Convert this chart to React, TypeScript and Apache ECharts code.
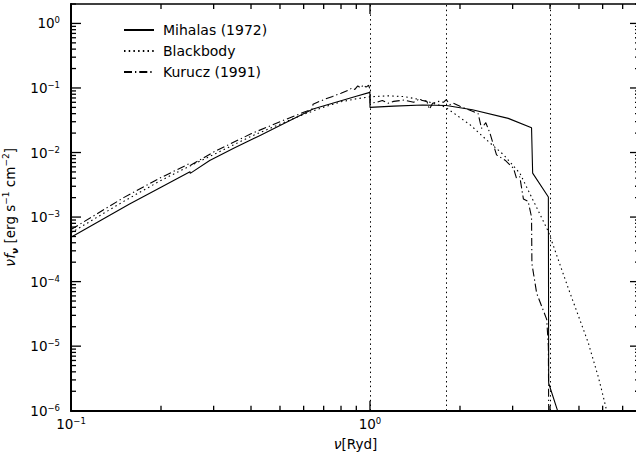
import React, { useEffect, useRef } from 'react';
import * as echarts from 'echarts';

const FONT = '"DejaVu Sans", "Liberation Sans", sans-serif';

// [nu (Ryd), nu f_nu]
const mihalas: [number, number][] = [
  [0.1, 4.85e-4], [0.157, 1.59e-3], [0.2, 2.9e-3], [0.25, 5.05e-3], [0.2505, 4.75e-3],
  [0.291, 7.5e-3], [0.35, 0.0116], [0.429, 0.0184], [0.5, 0.0262], [0.645, 0.0471],
  [0.8, 0.0635], [0.9, 0.0746], [0.999, 0.0854], [1.0, 0.05], [1.2, 0.0524],
  [1.5, 0.0545], [1.8, 0.0535], [2.2, 0.046], [2.9, 0.0338], [3.47, 0.0242],
  [3.5, 0.0048], [3.95, 0.00205], [3.96, 2.66e-6], [4.24, 1e-6], [4.4, 5e-7],
];

const blackbody: [number, number][] = [
  [0.1, 5.7e-4], [0.15, 1.75e-3], [0.2, 3.7e-3], [0.25, 6.2e-3], [0.3, 9.3e-3],
  [0.4, 0.0178], [0.5, 0.0275], [0.6, 0.039], [0.7, 0.0505], [0.8, 0.061],
  [0.9, 0.068], [1.0, 0.073], [1.15, 0.0755], [1.3, 0.0735], [1.5, 0.065],
  [1.78, 0.051], [2.16, 0.027], [2.457, 0.0156], [2.8, 0.0092], [3.174, 4.75e-3],
  [3.5, 1.88e-3], [3.95, 5.97e-4], [4.6, 8.0e-5], [5.37, 1.13e-5], [5.8, 3.37e-6],
  [6.03, 1.65e-6], [6.16, 1.09e-6], [6.3, 7e-7],
];

const kurucz: [number, number][] = [
  [0.1, 6.4e-4], [0.15, 2.0e-3], [0.2, 4.1e-3], [0.25, 6.8e-3], [0.252, 6.4e-3],
  [0.3, 0.0102], [0.4, 0.0195], [0.5, 0.03], [0.6, 0.042], [0.64, 0.047],
  [0.645, 0.056], [0.7, 0.066], [0.75, 0.074], [0.8, 0.083], [0.85, 0.093],
  [0.87, 0.1], [0.89, 0.095], [0.91, 0.108], [0.93, 0.1], [0.95, 0.112],
  [0.97, 0.103], [0.99, 0.11], [1.0, 0.095], [1.001, 0.058], [1.05, 0.06],
  [1.1, 0.064], [1.15, 0.058], [1.2, 0.062], [1.3, 0.065], [1.4, 0.06],
  [1.45, 0.066], [1.55, 0.062], [1.58, 0.047], [1.62, 0.058], [1.7, 0.062],
  [1.76, 0.06], [1.8, 0.066], [1.85, 0.055], [1.9, 0.058], [2.0, 0.052],
  [2.16, 0.045], [2.3, 0.04], [2.36, 0.0236], [2.44, 0.029], [2.52, 0.0198],
  [2.65, 0.0092], [2.83, 0.0076], [3.02, 5.7e-3], [3.09, 4.0e-3], [3.17, 4.2e-3],
  [3.26, 1.9e-3], [3.38, 1.75e-3], [3.47, 1.0e-3], [3.48, 1.9e-4], [3.61, 6.6e-5],
  [3.9, 2.6e-5], [3.95, 9.9e-6], [3.96, 1e-6], [3.97, 5e-7],
];

const edges = [1, 1.8, 4];
const xRange = [0.1, 8];
const yRange = [1e-6, 2];
const xMajorTicks = [0.1, 1];
const xMinorTicks = [0.2, 0.3, 0.4, 0.5, 0.6, 0.7, 0.8, 0.9, 2, 3, 4, 5, 6, 7];
const yDecades = [-6, -5, -4, -3, -2, -1, 0];
const minorMultipliers = [2, 3, 4, 5, 6, 7, 8, 9];

const yMajorTicks = yDecades.map((e) => Math.pow(10, e));
const yMinorTicks: number[] = [];
yDecades.forEach((e) => minorMultipliers.forEach((m) => {
  const v = m * Math.pow(10, e);
  if (v <= yRange[1]) yMinorTicks.push(v);
}));

const supText = (e: number) => (e < 0 ? '−' + Math.abs(e) : String(e));
const decadeLabel = (v: number) => {
  const l = Math.log10(v);
  const e = Math.round(l);
  if (Math.abs(l - e) > 1e-6) return '';
  return `{b|10}{s|${supText(e)}}`;
};

const labelRich = {
  b: { fontSize: 13.5, fontFamily: FONT, color: '#000', lineHeight: 15 },
  s: { fontSize: 8.5, fontFamily: FONT, color: '#000', lineHeight: 9, verticalAlign: 'top' },
};

const tickData = [
  ...xMajorTicks.map((v) => [v, yRange[0], 0]),
  ...xMinorTicks.map((v) => [v, yRange[0], 1]),
  ...yMajorTicks.map((v) => [xRange[0], v, 2]),
  ...yMinorTicks.map((v) => [xRange[0], v, 3]),
];

export default function App() {
  const ref = useRef<HTMLDivElement>(null);
  useEffect(() => {
    const chart = echarts.init(ref.current!, undefined, { renderer: 'svg' });
    const option: any = {
      animation: false,
      backgroundColor: '#fff',
      grid: {
        left: 71, top: 4, width: 569, bottom: 46.3,
        outerBoundsMode: 'none', containLabel: false,
        show: true, borderColor: '#000', borderWidth: 1.5, backgroundColor: 'transparent',
      },
      legend: {
        data: ['Mihalas (1972)', 'Blackbody', 'Kurucz (1991)'],
        orient: 'vertical', left: 123, top: 23, padding: 0,
        itemWidth: 30, itemHeight: 11, itemGap: 7,
        itemStyle: { opacity: 0, color: 'transparent', borderWidth: 0 },
        textStyle: { fontFamily: FONT, fontSize: 14, color: '#000', padding: [0, 0, 0, 4] },
        selectedMode: false,
      },
      xAxis: {
        type: 'log', logBase: 10, min: xRange[0], max: xRange[1],
        axisLine: { show: true, lineStyle: { color: '#000', width: 2 } },
        axisTick: { show: false }, minorTick: { show: false },
        splitLine: { show: false },
        axisLabel: { formatter: decadeLabel, rich: labelRich, margin: 6, color: '#000' },
        name: '{i|ν}[Ryd]', nameLocation: 'middle', nameGap: 26,
        nameTextStyle: {
          fontFamily: FONT, fontSize: 13.5, color: '#000',
          rich: { i: { fontFamily: FONT, fontSize: 14, fontStyle: 'italic', color: '#000' } },
        },
      },
      yAxis: {
        type: 'log', logBase: 10, min: yRange[0], max: yRange[1],
        axisLine: { show: true, lineStyle: { color: '#000', width: 2 } },
        axisTick: { show: false }, minorTick: { show: false },
        splitLine: { show: false },
        axisLabel: { formatter: decadeLabel, rich: labelRich, margin: 11, color: '#000' },
        name: '{i|νf}{sub|ν} [erg s{sup|−1} cm{sup|−2}]', nameLocation: 'middle', nameGap: 47,
        nameTextStyle: {
          fontFamily: FONT, fontSize: 13.5, color: '#000', lineHeight: 18,
          rich: {
            i: { fontFamily: FONT, fontSize: 14, fontStyle: 'italic', color: '#000', lineHeight: 18 },
            sub: { fontFamily: FONT, fontSize: 9, fontStyle: 'italic', fontWeight: 'bold', color: '#000', lineHeight: 9, verticalAlign: 'bottom' },
            sup: { fontFamily: FONT, fontSize: 9, color: '#000', lineHeight: 9, verticalAlign: 'top' },
          },
        },
      },
      series: [
        {
          name: 'Mihalas (1972)', type: 'line', data: mihalas, symbol: 'none', showSymbol: false,
          lineStyle: { color: '#000', width: 1.1, type: 'solid' }, itemStyle: { color: '#000' },
          silent: true, z: 3,
          markLine: {
            silent: true, symbol: ['none', 'none'], label: { show: false },
            lineStyle: { color: '#000', width: 1, type: [1.5, 3.2] },
            emphasis: { disabled: true },
            data: edges.map((v) => ({ xAxis: v })),
          },
        },
        {
          name: 'Blackbody', type: 'line', data: blackbody, symbol: 'none', showSymbol: false,
          lineStyle: { color: '#000', width: 1.1, type: [1.5, 3.2] }, itemStyle: { color: '#000' },
          silent: true, z: 3,
        },
        {
          name: 'Kurucz (1991)', type: 'line', data: kurucz, symbol: 'none', showSymbol: false,
          lineStyle: { color: '#000', width: 1.1, type: [8, 3, 1.3, 3] }, itemStyle: { color: '#000' },
          silent: true, z: 3,
        },
        {
          type: 'custom', data: tickData, silent: true, clip: false, z: 5,
          encode: { x: 0, y: 1 },
          renderItem: (params: any, api: any) => {
            const kind = api.value(2);
            const pt = api.coord([api.value(0), api.value(1)]);
            const cs = params.coordSys;
            const len = kind === 0 || kind === 2 ? 10 : 5;
            const style = { stroke: '#000', lineWidth: 1.3 };
            if (kind < 2) {
              const x = pt[0];
              const yb = cs.y + cs.height;
              return {
                type: 'group', children: [
                  { type: 'line', shape: { x1: x, y1: yb, x2: x, y2: yb - len }, style },
                  { type: 'line', shape: { x1: x, y1: cs.y, x2: x, y2: cs.y + len }, style },
                ],
              };
            }
            const y = pt[1];
            const xr = cs.x + cs.width;
            return {
              type: 'group', children: [
                { type: 'line', shape: { x1: cs.x, y1: y, x2: cs.x + len, y2: y }, style },
                { type: 'line', shape: { x1: xr, y1: y, x2: xr - len, y2: y }, style },
              ],
            };
          },
        },
      ],
    };
    chart.setOption(option);
    return () => chart.dispose();
  }, []);
  return (
    <div
      ref={ref}
      style={{ position: 'fixed', left: 0, top: 0, width: 636, height: 457, background: '#fff' }}
    />
  );
}
